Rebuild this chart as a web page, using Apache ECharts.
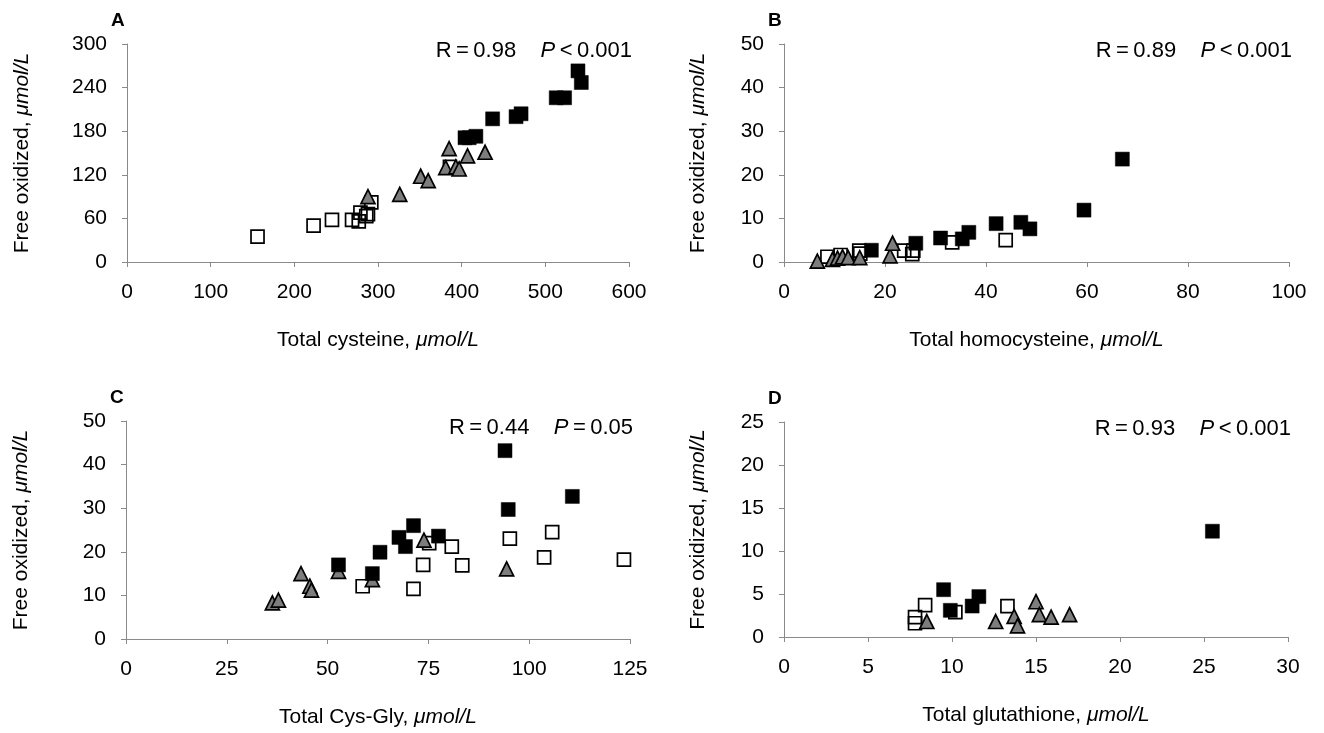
<!DOCTYPE html>
<html>
<head>
<meta charset="utf-8">
<script src="https://cdn.jsdelivr.net/npm/echarts@6/dist/echarts.min.js"></script>
<style>html,body{margin:0;padding:0;background:#fff}#c{width:1324px;height:733px}</style>
</head>
<body>
<div id="c"></div>
<script>
// Panel A: total cysteine vs free oxidized
const aOpen = [[156,35],[223,50],[245,58],[269,58],[277,56],[279,68],[286,63],[288,66],[292,82],[386,131]];
const aTri = [[288,90],[326,93],[351,118],[360,112],[381,130],[385,156],[393,131],[397,128],[407,146],[428,151]];
const aFilled = [[404,171],[409,171],[417,173],[437,197],[465,200],[471,204],[513,226],[523,226],[539,263],[543,247]];
// Panel B: total homocysteine
const bOpen = [[8.6,1.2],[11.2,1.6],[14.9,2.6],[15.1,1.9],[23.8,2.6],[25.4,1.8],[25.6,2.6],[33.3,4.5],[43.9,5.0]];
const bTri = [[6.6,0.2],[9.6,0.6],[10.6,0.9],[11.6,1.2],[12.7,1.0],[15.0,1.0],[21.0,1.4],[21.5,4.3]];
const bFilled = [[17.3,2.7],[26.1,4.3],[31.0,5.5],[35.3,5.3],[36.6,6.8],[42.0,8.8],[46.9,9.1],[48.7,7.6],[59.4,11.9],[67.0,23.6]];
// Panel C: total Cys-Gly
const cOpen = [[58.7,12.1],[71.3,11.5],[73.7,17.0],[75.2,22.0],[80.8,21.2],[83.4,16.9],[95.2,23.0],[103.7,18.7],[105.7,24.5],[123.5,18.2]];
const cTri = [[36.3,8.3],[37.8,8.9],[43.4,15.0],[45.6,12.1],[46.0,11.2],[52.7,15.5],[61.1,13.6],[73.9,22.7],[94.4,16.1]];
const cFilled = [[52.7,17.0],[61.1,15.0],[63.0,19.9],[67.7,23.3],[69.3,21.2],[71.3,26.0],[77.5,23.6],[94.0,43.2],[94.8,29.7],[110.7,32.7]];
// Panel D: total glutathione
const dOpen = [[7.8,1.6],[7.8,2.3],[8.4,3.7],[10.2,2.9],[13.3,3.6]];
const dTri = [[8.5,1.8],[12.6,1.8],[13.7,2.4],[13.9,1.3],[15.0,4.1],[15.2,2.6],[15.9,2.3],[17.0,2.6]];
const dFilled = [[9.5,5.5],[9.9,3.1],[11.2,3.6],[11.6,4.7],[25.5,12.3]];

const panelLetters = ['A','B','C','D'];
const xNames = ['Total cysteine, ','Total homocysteine, ','Total Cys-Gly, ','Total glutathione, '];
const yName = 'Free oxidized, ';
const unit = 'μmol/L';
const stats = [['0.98','<','0.001'],['0.89','<','0.001'],['0.44','=','0.05'],['0.93','<','0.001']];
const xRanges = [[0,600,100],[0,100,20],[0,125,25],[0,30,5]];
const yRanges = [[0,300,60],[0,50,10],[0,50,10],[0,25,5]];

const FONT = 'Liberation Sans, Arial, Helvetica, sans-serif';
const grids = [
  {left:127, top:44, width:502, height:218},
  {left:784, top:44, width:505, height:218},
  {left:126, top:421, width:504, height:218},
  {left:784, top:422, width:504, height:215}
];
const yGaps = [94, 75, 94, 75];
const nameRich = {i:{fontStyle:'italic', fontSize:21, color:'#000', fontFamily:FONT}};

function axisBase(r){
  return {
    min:r[0], max:r[1], interval:r[2],
    axisLine:{show:true, lineStyle:{color:'#8a8a8a', width:1}},
    axisTick:{show:true, length:5, lineStyle:{color:'#8a8a8a'}},
    splitLine:{show:false},
    axisLabel:{fontSize:21, color:'#000', fontFamily:FONT, margin:20},
    nameTextStyle:{fontSize:21, color:'#000', fontFamily:FONT, rich:nameRich}
  };
}
const xAxes = [], yAxes = [], series = [], titles = [];
const sets = [[aOpen,aTri,aFilled],[bOpen,bTri,bFilled],[cOpen,cTri,cFilled],[dOpen,dTri,dFilled]];
for (let i=0;i<4;i++){
  xAxes.push(Object.assign(axisBase(xRanges[i]), {type:'value', gridIndex:i, name:xNames[i]+'{i|'+unit+'}', nameLocation:'middle', nameGap:68}));
  yAxes.push(Object.assign(axisBase(yRanges[i]), {type:'value', gridIndex:i, name:yName+'{i|'+unit+'}', nameLocation:'middle', nameGap:yGaps[i]}));
  const [op,tr,fi] = sets[i];
  series.push({type:'scatter', xAxisIndex:i, yAxisIndex:i, data:op, symbol:'rect', symbolSize:13,
    itemStyle:{color:'rgba(255,255,255,0)', borderColor:'#000', borderWidth:1.7, opacity:1}, z:2});
  series.push({type:'scatter', xAxisIndex:i, yAxisIndex:i, data:tr, symbol:'triangle', symbolSize:[14,14],
    itemStyle:{color:'#7d7d7d', borderColor:'#000', borderWidth:1.7, opacity:1}, z:3});
  series.push({type:'scatter', xAxisIndex:i, yAxisIndex:i, data:fi, symbol:'rect', symbolSize:14,
    itemStyle:{color:'#000', borderColor:'#000', borderWidth:0.5, opacity:1}, z:4});
  const g = grids[i];
  titles.push({text:panelLetters[i], left:g.left-16, top:g.top-33, padding:0,
    textStyle:{fontSize:19, fontWeight:'bold', color:'#000', fontFamily:FONT}});
  const s = stats[i];
  titles.push({text:'R\u2009=\u2009'+s[0]+'    {i|P}\u2009'+s[1]+'\u2009'+s[2],
    right:1324-(g.left+g.width)-3, top:g.top-4, padding:0,
    textStyle:{fontSize:22, fontWeight:'normal', color:'#000', fontFamily:FONT,
      rich:{i:{fontStyle:'italic', fontSize:22, color:'#000', fontFamily:FONT}}}});
}

const chart = echarts.init(document.getElementById('c'), null, {renderer:'canvas'});
chart.setOption({
  animation:false,
  backgroundColor:'#fff',
  title:titles,
  grid:grids,
  xAxis:xAxes,
  yAxis:yAxes,
  series:series
});
</script>
</body>
</html>
